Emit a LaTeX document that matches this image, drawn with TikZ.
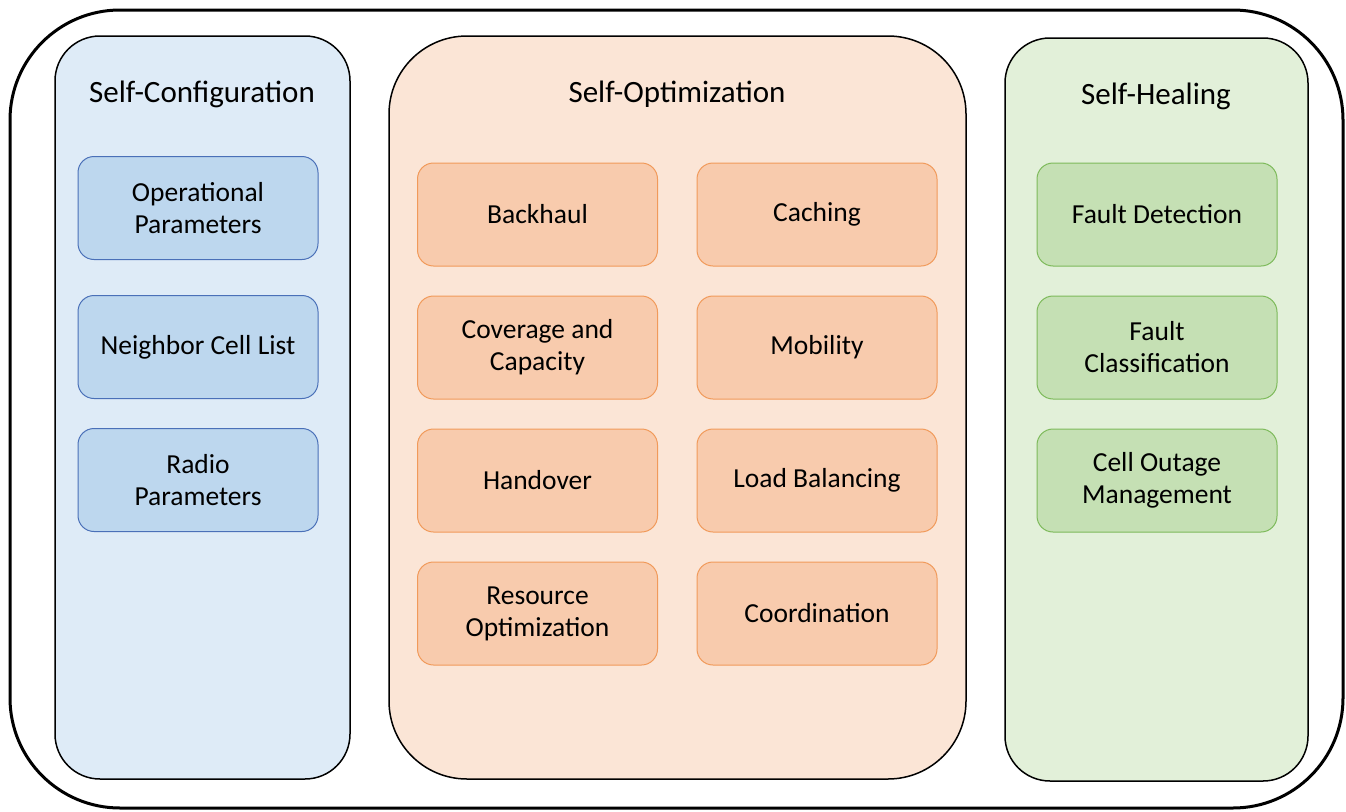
\documentclass[tikz,border=0pt]{standalone}
\usepackage{fontspec}
\setmainfont{Carlito}
\usetikzlibrary{positioning}

\definecolor{cfgback}{HTML}{DEEBF7}
\definecolor{cfgfill}{HTML}{BDD7EE}
\definecolor{cfgline}{HTML}{4A70B8}
\definecolor{optback}{HTML}{FBE5D6}
\definecolor{optfill}{HTML}{F8CBAD}
\definecolor{optline}{HTML}{F19A5A}
\definecolor{healback}{HTML}{E2F0D9}
\definecolor{healfill}{HTML}{C5E0B4}
\definecolor{healline}{HTML}{7DBA5A}

\begin{document}
\begin{tikzpicture}[
    x=1pt, y=-1pt,
    panel/.style={rectangle, draw=black, line width=1.5pt, inner sep=0pt},
    title/.style={font=\fontsize{31}{37}\selectfont},
    box/.style={rectangle, draw, line width=1pt, rounded corners=16pt, minimum width=240pt, minimum height=103pt, align=center, font=\fontsize{27.5}{32}\selectfont},
    cfgbox/.style={box, fill=cfgfill, draw=cfgline},
    optbox/.style={box, fill=optfill, draw=optline},
    healbox/.style={box, fill=healfill, draw=healline},
]
\useasboundingbox (0,0) rectangle (1346,811);

% outer frame
\draw[line width=3pt, rounded corners=110pt] (10,10) rectangle (1343,808);

% panels
\node[panel, fill=cfgback, rounded corners=45pt, minimum width=295pt, minimum height=743pt] (cfg) at (202.5,407.5) {};
\node[panel, fill=optback, rounded corners=78pt, minimum width=577pt, minimum height=743pt] (opt) at (677.5,407.5) {};
\node[panel, fill=healback, rounded corners=45pt, minimum width=303pt, minimum height=743pt] (heal) at (1156.5,409.5) {};

\node[title] (cfgtitle) at (202,94) {Self-Configuration};
\node[title] (opttitle) at (677,94) {Self-Optimization};
\node[title] (healtitle) at (1156,96) {Self-Healing};

% self-configuration
\node[cfgbox] (oper) at (198,208) {Operational\\Parameters};
\node[cfgbox, below=35pt of oper] (neigh) {Neighbor Cell List};
\node[cfgbox, below=29pt of neigh] (radio) {Radio\\Parameters};

% self-optimization
\node[optbox] (back) at (537.5,214.5) {Backhaul};
\node[optbox, below=29pt of back] (cover) {Coverage and\\Capacity};
\node[optbox, below=29pt of cover] (hand) {Handover};
\node[optbox, below=29pt of hand] (resrc) {Resource\\Optimization};

\node[optbox] (cache) at (817,214.5) {Caching};
\node[optbox, below=29pt of cache] (mobil) {Mobility};
\node[optbox, below=29pt of mobil] (load) {Load Balancing};
\node[optbox, below=29pt of load] (coord) {Coordination};

% self-healing
\node[healbox] (detect) at (1157,214.5) {Fault Detection};
\node[healbox, below=29pt of detect] (classif) {Fault\\Classification};
\node[healbox, below=29pt of classif] (outage) {Cell Outage\\Management};

\end{tikzpicture}
\end{document}
